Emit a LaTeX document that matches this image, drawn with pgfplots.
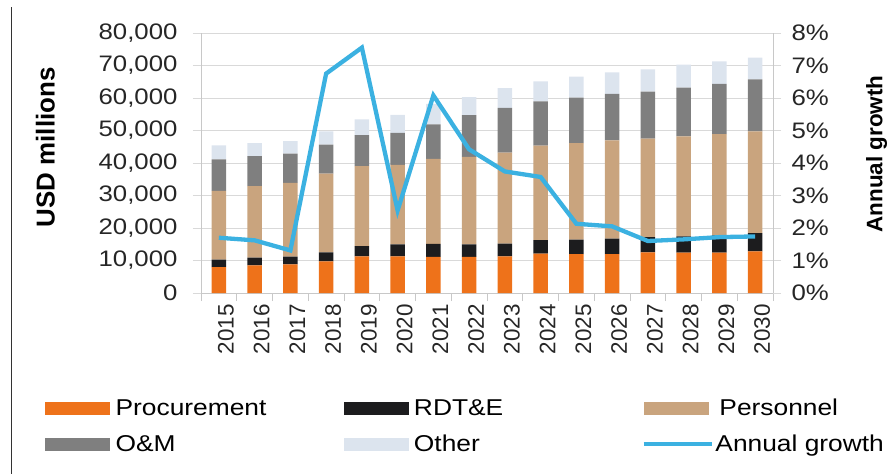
\documentclass[border=0pt]{standalone}
\usepackage{fontspec}
\setmainfont{Liberation Sans}
\newfontfamily\widesans{Liberation Sans}[FakeStretch=1.15]
\usepackage{pgfplots}
\usepackage{pgfplotstable}
\pgfplotsset{compat=1.18}
\pgfplotsset{/pgf/number format/assume math mode=true}

\definecolor{procC}{RGB}{238,114,26}
\definecolor{rdtC}{RGB}{28,28,30}
\definecolor{persC}{RGB}{201,164,126}
\definecolor{omC}{RGB}{127,127,127}
\definecolor{otherC}{RGB}{220,228,238}
\definecolor{lineC}{RGB}{59,177,225}
\definecolor{gridC}{RGB}{217,217,217}
\definecolor{axisC}{RGB}{200,200,200}

\newcommand\tickfont{\widesans\fontsize{22.5}{24}\selectfont}
\newcommand\xtickfont{\fontsize{22.5}{24}\selectfont}
\newcommand\legfont{\widesans\fontsize{23}{25}\selectfont}

% spending by category (USD millions) and annual growth (%)
\pgfplotstableread{
x year proc rdt pers om other growth
0 2015 8000 2300 21100 9700 4300 1.70
1 2016 8500 2400 22000 9250 4000 1.62
2 2017 8800 2400 22650 9050 3800 1.31
3 2018 9750 2750 24250 8900 4100 6.75
4 2019 11300 3100 24600 9550 4900 7.55
5 2020 11300 3700 24400 9850 5550 2.54
6 2021 11100 4000 26150 10650 6300 6.08
7 2022 11100 3900 26850 12850 5600 4.42
8 2023 11300 3900 28000 13750 6050 3.74
9 2024 12100 4200 29050 13600 6150 3.57
10 2025 12000 4400 29750 13950 6450 2.13
11 2026 12000 4700 30250 14350 6550 2.05
12 2027 12500 4700 30300 14450 6850 1.60
13 2028 12400 5050 30750 15000 7050 1.65
14 2029 12400 5350 31100 15500 6900 1.72
15 2030 12800 5650 31300 16000 6700 1.74
}\spend

\begin{document}
\begin{tikzpicture}
\useasboundingbox (-201bp,-181bp) rectangle (687bp,293bp);
\draw[black!80, line width=0.8bp] (-190bp,-181bp) -- (-190bp,286bp);

\begin{axis}[
    scale only axis, width=572bp, height=260bp,
    xmin=-0.5, xmax=15.5, ymin=0, ymax=80000,
    ybar stacked, bar width=14.5bp,
    axis x line*=bottom, axis y line*=left,
    axis line style={draw=axisC, line width=0.8bp},
    xtick={0,...,15},
    xticklabels={2015,2016,2017,2018,2019,2020,2021,2022,2023,2024,2025,2026,2027,2028,2029,2030},
    minor xtick={-0.5,0.5,...,15.5},
    ytick={0,10000,...,80000},
    tick align=outside,
    major tick length=8bp, minor tick length=8bp,
    major x tick style={draw=none},
    minor x tick style={draw=axisC, line width=0.8bp},
    ytick style={draw=gridC, line width=0.8bp},
    ymajorgrids, grid style={draw=gridC, line width=0.8bp},
    scaled y ticks=false,
    /pgf/number format/fixed, /pgf/number format/1000 sep={,},
    yticklabel style={font=\tickfont, text=black!85, xshift=-12bp},
    xticklabel style={font=\xtickfont, text=black!85, rotate=90, anchor=east, yshift=-7bp},
    ylabel={USD millions},
    ylabel style={font=\bfseries\fontsize{26}{28}\selectfont, at={(axis description cs:-0.272,0.56)}, anchor=center},
]
\addplot[fill=procC, draw=none] table[x=x, y=proc]{\spend};
\addplot[fill=rdtC, draw=none] table[x=x, y=rdt]{\spend};
\addplot[fill=persC, draw=none] table[x=x, y=pers]{\spend};
\addplot[fill=omC, draw=none] table[x=x, y=om]{\spend};
\addplot[fill=otherC, draw=none] table[x=x, y=other]{\spend};
\end{axis}

\begin{axis}[
    scale only axis, width=572bp, height=260bp,
    xmin=-0.5, xmax=15.5, ymin=0, ymax=8,
    axis x line=none, axis y line*=right,
    axis line style={draw=axisC, line width=0.8bp},
    ytick={0,...,8},
    yticklabel={\pgfmathprintnumber{\tick}\%},
    tick align=outside, major tick length=8bp,
    ytick style={draw=gridC, line width=0.8bp},
    yticklabel style={font=\tickfont, text=black!85, xshift=7bp},
    ylabel={Annual growth},
    ylabel style={font=\bfseries\fontsize{22.5}{24}\selectfont, at={(axis description cs:1.181,0.535)}, anchor=center},
    legend columns=3,
    legend cell align=left,
    legend style={at={(axis description cs:-0.2727,-0.5115)}, anchor=west,
        draw=none, fill=none, inner sep=0pt, font=\legfont, row sep=14bp},
]
\addlegendimage{legend image code/.code={\fill[procC] (0bp,-6bp) rectangle (64bp,6bp);}}
\addlegendentry{\makebox[230bp][l]{\hspace*{4bp}Procurement}}
\addlegendimage{legend image code/.code={\fill[rdtC] (0bp,-6bp) rectangle (64bp,6bp);}}
\addlegendentry{\makebox[230bp][l]{\hspace*{4bp}RDT\&E}}
\addlegendimage{legend image code/.code={\fill[persC] (0bp,-6bp) rectangle (64bp,6bp);}}
\addlegendentry{\makebox[230bp][l]{\hspace*{4bp}Personnel}}
\addlegendimage{legend image code/.code={\fill[omC] (0bp,-6bp) rectangle (64bp,6bp);}}
\addlegendentry{\makebox[230bp][l]{\hspace*{4bp}O\&M}}
\addlegendimage{legend image code/.code={\fill[otherC] (0bp,-6bp) rectangle (64bp,6bp);}}
\addlegendentry{\makebox[230bp][l]{\hspace*{4bp}Other}}
\addplot[lineC, line width=4.3bp,
    legend image code/.code={\draw[lineC, line width=3.5bp] (0bp,0bp) -- (68bp,0bp);}]
    table[x=x, y=growth]{\spend};
\addlegendentry{\makebox[230bp][l]{Annual growth}}
\end{axis}
\end{tikzpicture}
\end{document}
